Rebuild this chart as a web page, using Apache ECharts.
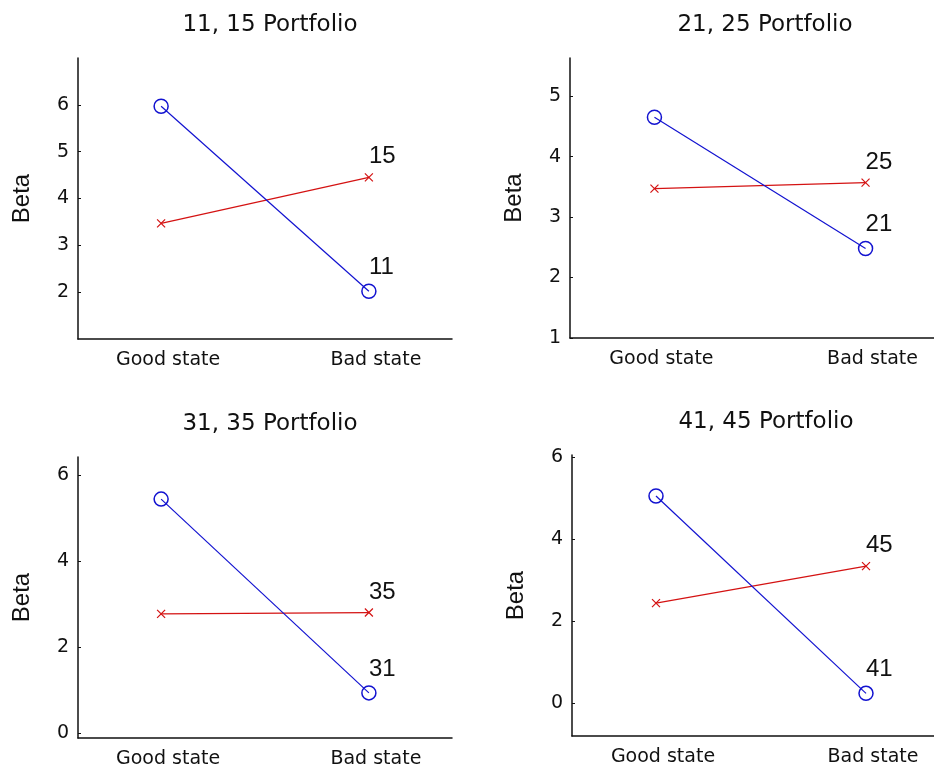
<!DOCTYPE html>
<html>
<head>
<meta charset="utf-8">
<script src="https://cdn.jsdelivr.net/npm/echarts@6/dist/echarts.min.js"></script>
<style>
html,body{margin:0;padding:0;background:#fff;}
#chart{width:934px;height:773px;}
</style>
</head>
<body>
<div id="chart"></div>
<script>
// ---- data ----
const categories = ['Good state', 'Bad state'];
const titles = ['11, 15 Portfolio', '21, 25 Portfolio', '31, 35 Portfolio', '41, 45 Portfolio'];
const lowNames = ['11', '21', '31', '41'];
const highNames = ['15', '25', '35', '45'];
const p11 = [5.97, 2.02];
const p15 = [3.47, 4.45];
const p21 = [4.65, 2.48];
const p25 = [3.47, 3.57];
const p31 = [5.44, 0.93];
const p35 = [2.77, 2.80];
const p41 = [5.05, 0.24];
const p45 = [2.44, 3.34];
const yTicks1 = [2, 3, 4, 5, 6];
const yTicks2 = [1, 2, 3, 4, 5];
const yTicks3 = [0, 2, 4, 6];
const yTicks4 = [0, 2, 4, 6];
const yRange1 = [1, 7];
const yRange2 = [1, 5.63];
const yRange3 = [-0.12, 6.42];
const yRange4 = [-0.8, 6.05];
const xPos = [1, 2];
const xRange = [0.6, 2.4];

// ---- layout ----
const lows = [p11, p21, p31, p41];
const highs = [p15, p25, p35, p45];
const yTicks = [yTicks1, yTicks2, yTicks3, yTicks4];
const yRanges = [yRange1, yRange2, yRange3, yRange4];
const grids = [
  {left: 78, top: 58, width: 374, height: 281},
  {left: 570, top: 58, width: 380, height: 280},
  {left: 78, top: 457, width: 374, height: 281},
  {left: 572, top: 455, width: 378, height: 281}
];
const titleTops = [9, 9, 408, 406];

const BLUE = '#1212d0';
const RED = '#d41212';
const XSYM = 'path://M0,0L10,10M10,0L0,10';
const tickFont = '"DejaVu Sans", sans-serif';
const annFont = '"Liberation Sans", Arial, sans-serif';

const option = {
  animation: false,
  backgroundColor: '#fff',
  title: [], grid: [], xAxis: [], yAxis: [], series: []
};

for (let i = 0; i < 4; i++) {
  const g = grids[i];
  option.grid.push({left: g.left, top: g.top, width: g.width, height: g.height,
    containLabel: false, outerBoundsMode: 'none'});
  option.title.push({
    text: titles[i],
    left: g.left + g.width / 2,
    top: titleTops[i],
    textAlign: 'center',
    textStyle: {fontFamily: tickFont, fontWeight: 'normal', fontSize: 23, color: '#111'}
  });
  option.xAxis.push({
    type: 'value', gridIndex: i, min: xRange[0], max: xRange[1],
    splitLine: {show: false},
    axisLine: {show: true, onZero: false, lineStyle: {color: '#111', width: 1.5}},
    axisTick: {show: false},
    axisLabel: {
      customValues: xPos, margin: 12, padding: [0, 0, 0, 14],
      fontFamily: tickFont, fontSize: 19, color: '#111',
      formatter: v => categories[Math.round(v) - 1]
    }
  });
  option.yAxis.push({
    type: 'value', gridIndex: i, min: yRanges[i][0], max: yRanges[i][1],
    name: 'Beta', nameLocation: 'middle', nameGap: 44,
    nameTextStyle: {fontFamily: annFont, fontSize: 24, color: '#111'},
    splitLine: {show: false},
    axisLine: {show: true, onZero: false, lineStyle: {color: '#111', width: 1.5}},
    axisTick: {show: true, inside: true, length: 3, customValues: yTicks[i], lineStyle: {color: '#111'}},
    axisLabel: {customValues: yTicks[i], margin: 9, fontFamily: tickFont, fontSize: 19, color: '#111'}
  });
  const lowData = lows[i].map((v, k) => ({
    value: [xPos[k], v],
    label: k === 1 ? {show: true, formatter: lowNames[i]} : {show: false}
  }));
  const highData = highs[i].map((v, k) => ({
    value: [xPos[k], v],
    label: k === 1 ? {show: true, formatter: highNames[i]} : {show: false}
  }));
  option.series.push({
    type: 'line', xAxisIndex: i, yAxisIndex: i, data: highData,
    lineStyle: {color: RED, width: 1.2},
    symbol: XSYM, symbolSize: 8, showAllSymbol: true,
    itemStyle: {color: RED, borderColor: RED, borderWidth: 1.2},
    label: {position: 'top', align: 'left', distance: 4, fontFamily: annFont, fontSize: 24, color: '#111'},
    z: 2
  });
  option.series.push({
    type: 'line', xAxisIndex: i, yAxisIndex: i, data: lowData,
    lineStyle: {color: BLUE, width: 1.2},
    symbol: 'circle', symbolSize: 14, showAllSymbol: true,
    itemStyle: {color: 'rgba(0,0,0,0)', borderColor: BLUE, borderWidth: 1.5},
    label: {position: 'top', align: 'left', distance: 4, fontFamily: annFont, fontSize: 24, color: '#111'},
    z: 3
  });
}

const chart = echarts.init(document.getElementById('chart'), null, {renderer: 'canvas'});
chart.setOption(option);
</script>
</body>
</html>
